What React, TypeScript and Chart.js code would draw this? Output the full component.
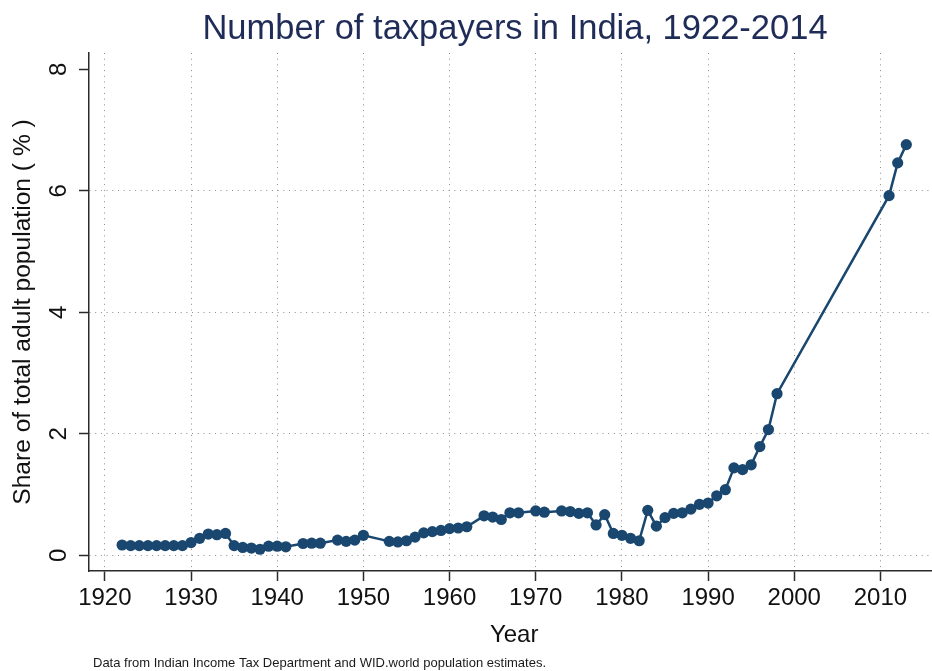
import React, { useEffect, useRef } from "react";
import { Chart, registerables } from "chart.js";

Chart.register(...registerables);

const TITLE = "Number of taxpayers in India, 1922-2014";
const Y_TITLE = "Share of total adult population ( % )";
const X_TITLE = "Year";
const FOOTER = "Data from Indian Income Tax Department and WID.world population estimates.";

const years: number[] = [
  1922, 1923, 1924, 1925, 1926, 1927, 1928, 1929, 1930, 1931, 1932, 1933, 1934, 1935, 1936, 1937, 1938, 1939, 1940, 1941,
  1943, 1944, 1945, 1947, 1948, 1949, 1950,
  1953, 1954, 1955, 1956, 1957, 1958, 1959, 1960, 1961, 1962,
  1964, 1965, 1966, 1967, 1968, 1970, 1971,
  1973, 1974, 1975, 1976, 1977, 1978, 1979, 1980, 1981, 1982, 1983, 1984, 1985, 1986, 1987, 1988, 1989,
  1990, 1991, 1992, 1993, 1994, 1995, 1996, 1997, 1998,
  2011, 2012, 2013,
];

const shares: number[] = [
  0.17, 0.16, 0.16, 0.16, 0.16, 0.16, 0.16, 0.16, 0.21, 0.28, 0.35, 0.34, 0.36, 0.16, 0.13, 0.12, 0.1, 0.15, 0.15, 0.14,
  0.195, 0.2, 0.2, 0.25, 0.23, 0.25, 0.33,
  0.23, 0.22, 0.24, 0.3, 0.37, 0.39, 0.41, 0.44, 0.45, 0.47,
  0.65, 0.63, 0.59, 0.7, 0.7, 0.73, 0.71,
  0.73, 0.72, 0.69, 0.7, 0.5, 0.67, 0.36, 0.33, 0.28, 0.24, 0.74, 0.48, 0.62, 0.69, 0.7, 0.76, 0.84,
  0.86, 0.98, 1.08, 1.44, 1.41, 1.49, 1.79, 2.07, 2.66,
  5.92, 6.46, 6.76,
];

const xTicks: number[] = [1920, 1930, 1940, 1950, 1960, 1970, 1980, 1990, 2000, 2010];
const yTicks: number[] = [0, 2, 4, 6, 8];

const FONT = "'Liberation Sans', Arial, Helvetica, sans-serif";
const LINE_COLOR = "#1a476f";
const TITLE_COLOR = "#1f2c57";
const AXIS_COLOR = "#2a2a2a";
const GRID_COLOR = "#8c8c8c";
const DOTS = [1, 4.7];

const W = 945;
const H = 671;

const textPlugin = {
  id: "staticText",
  afterDraw(chart: any) {
    const ctx = chart.ctx as CanvasRenderingContext2D;
    const yScale = chart.scales.y;
    ctx.save();
    // main title
    ctx.fillStyle = TITLE_COLOR;
    ctx.font = `34.5px ${FONT}`;
    ctx.textAlign = "center";
    ctx.textBaseline = "middle";
    ctx.fillText(TITLE, 515, 29);
    // y tick labels, rotated
    ctx.fillStyle = "#111";
    ctx.font = `24px ${FONT}`;
    yTicks.forEach((v) => {
      const py = yScale.getPixelForValue(v);
      ctx.save();
      ctx.translate(59.5, py);
      ctx.rotate(-Math.PI / 2);
      ctx.textAlign = "center";
      ctx.textBaseline = "middle";
      ctx.fillText(String(v), 0, 0);
      ctx.restore();
    });
    // footer note
    ctx.fillStyle = "#1a1a1a";
    ctx.font = `13px ${FONT}`;
    ctx.textAlign = "left";
    ctx.textBaseline = "middle";
    ctx.fillText(FOOTER, 93, 663);
    ctx.restore();
  },
};

export default function App() {
  const ref = useRef<HTMLCanvasElement | null>(null);

  useEffect(() => {
    if (!ref.current) return;
    const chart = new Chart(ref.current, {
      type: "line",
      data: {
        datasets: [
          {
            data: years.map((yr, i) => ({ x: yr, y: shares[i] })),
            borderColor: LINE_COLOR,
            backgroundColor: LINE_COLOR,
            borderWidth: 2.5,
            pointRadius: 5.6,
            pointBorderWidth: 0,
            pointBackgroundColor: LINE_COLOR,
            tension: 0,
            fill: false,
          },
        ],
      },
      options: {
        responsive: false,
        maintainAspectRatio: false,
        devicePixelRatio: 1,
        animation: false,
        layout: { padding: { top: 53, left: 0, right: 0, bottom: 0 } },
        plugins: {
          legend: { display: false },
          tooltip: { enabled: false },
          title: { display: false },
        },
        scales: {
          x: {
            type: "linear",
            position: "bottom",
            min: 1918.16,
            max: 2016.84,
            afterBuildTicks: (scale: any) => {
              scale.ticks = xTicks.map((v) => ({ value: v }));
            },
            afterFit: (scale: any) => {
              scale.height = 100;
            },
            ticks: {
              autoSkip: false,
              maxRotation: 0,
              minRotation: 0,
              padding: 3,
              color: "#111",
              font: { family: FONT, size: 24 },
              callback: (v: any) => String(v),
            },
            grid: {
              color: GRID_COLOR,
              lineWidth: 1,
              drawTicks: true,
              tickLength: 10,
              tickColor: AXIS_COLOR,
              tickWidth: 1.5,
              tickBorderDash: [],
              borderDash: DOTS,
            } as any,
            border: { display: true, color: AXIS_COLOR, width: 1.5, dash: DOTS },
            title: {
              display: true,
              text: X_TITLE,
              color: "#111",
              font: { family: FONT, size: 24 },
              padding: { top: 0, bottom: 21 },
            },
          },
          y: {
            type: "linear",
            position: "left",
            min: -0.258,
            max: 8.268,
            afterBuildTicks: (scale: any) => {
              scale.ticks = yTicks.map((v) => ({ value: v }));
            },
            afterFit: (scale: any) => {
              scale.width = 89;
            },
            ticks: { display: false },
            grid: {
              color: (c: any) => (c.tick && c.tick.value === 8 ? "rgba(0,0,0,0)" : GRID_COLOR),
              lineWidth: 1,
              drawTicks: true,
              tickLength: 10,
              tickColor: AXIS_COLOR,
              tickWidth: 1.5,
              tickBorderDash: [],
              borderDash: DOTS,
            } as any,
            border: { display: true, color: AXIS_COLOR, width: 1.5, dash: DOTS },
            title: {
              display: true,
              text: Y_TITLE,
              color: "#111",
              font: { family: FONT, size: 24.6 },
              padding: { top: 8.5, bottom: 0 },
            },
          },
        },
      },
      plugins: [textPlugin],
    });
    return () => chart.destroy();
  }, []);

  return (
    <div
      style={{
        position: "fixed",
        left: 0,
        top: 0,
        width: 932,
        height: 671,
        overflow: "hidden",
        background: "#fff",
      }}
    >
      <canvas ref={ref} width={W} height={H} style={{ width: W, height: H, display: "block" }} />
    </div>
  );
}
